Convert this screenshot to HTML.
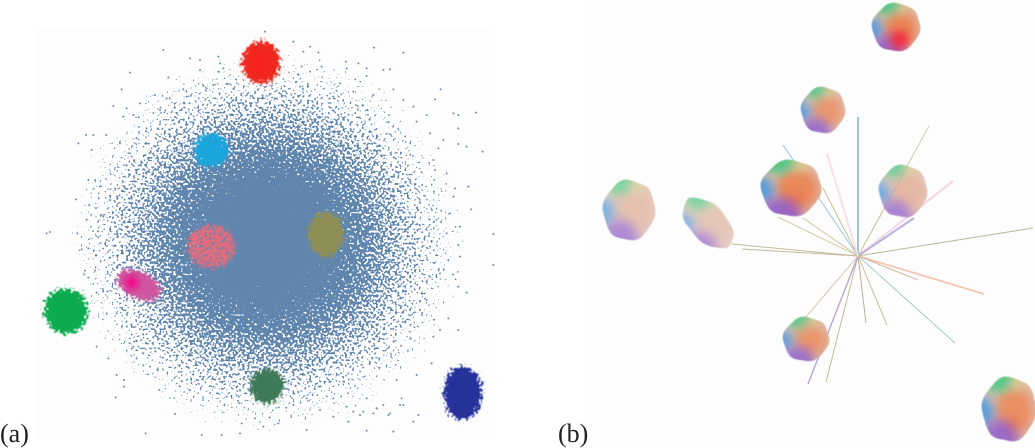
<!DOCTYPE html>
<html lang="en">
<head>
<meta charset="utf-8">
<title>Cluster projection (a) and radial axes view (b)</title>
<style>
html,body{margin:0;padding:0;background:#fff;width:1035px;height:448px;overflow:hidden}
svg{display:block}
text{font-family:"Liberation Serif",serif;font-size:26px;fill:#222}
</style>
</head>
<body>
<svg id="chart" width="1035" height="448" viewBox="0 0 1035 448" xmlns="http://www.w3.org/2000/svg">
  <defs>
    <radialGradient id="cloud-density">
      <stop offset="0" stop-color="#000" stop-opacity="1"/>
      <stop offset="0.36" stop-color="#000" stop-opacity="0.74"/>
      <stop offset="0.48" stop-color="#000" stop-opacity="0.62"/>
      <stop offset="0.6" stop-color="#000" stop-opacity="0.53"/>
      <stop offset="0.72" stop-color="#000" stop-opacity="0.46"/>
      <stop offset="0.84" stop-color="#000" stop-opacity="0.385"/>
      <stop offset="1" stop-color="#000" stop-opacity="0.28"/>
    </radialGradient>
    <filter id="speckle" x="0" y="0" width="1" height="1" color-interpolation-filters="sRGB">
      <feTurbulence type="fractalNoise" baseFrequency="0.42" numOctaves="1" seed="7" result="noise"/>
      <feColorMatrix in="noise" type="matrix" values="0 0 0 0 0  0 0 0 0 0  0 0 0 0 0  1 0 0 0 0" result="noiseAlpha"/>
      <feComposite in="SourceAlpha" in2="noiseAlpha" operator="arithmetic" k1="0" k2="1" k3="1" k4="-1" result="sum"/>
      <feComponentTransfer in="sum" result="mask"><feFuncA type="linear" slope="22" intercept="0"/></feComponentTransfer>
      <feFlood flood-color="#6086ae"/>
      <feComposite in2="mask" operator="in"/>
      <feGaussianBlur stdDeviation="0.3"/>
    </filter>
    <filter id="rough-edge" x="-30%" y="-30%" width="160%" height="160%" color-interpolation-filters="sRGB">
      <feTurbulence type="fractalNoise" baseFrequency="0.38" numOctaves="2" seed="3" result="noise"/>
      <feDisplacementMap in="SourceGraphic" in2="noise" scale="16" xChannelSelector="R" yChannelSelector="G"/>
      <feGaussianBlur stdDeviation="0.4"/>
    </filter>
    <filter id="mottled" x="-30%" y="-30%" width="160%" height="160%" color-interpolation-filters="sRGB">
      <feTurbulence type="fractalNoise" baseFrequency="0.42" numOctaves="1" seed="11" result="noise"/>
      <feDisplacementMap in="SourceGraphic" in2="noise" scale="18" xChannelSelector="R" yChannelSelector="G" result="rough"/>
      <feColorMatrix in="noise" type="matrix" values="0 0 0 0 0  0 0 0 0 0  0 0 0 0 0  6 0 0 0 -1.9" result="holes"/>
      <feComposite in="rough" in2="holes" operator="in"/>
      <feGaussianBlur stdDeviation="0.45"/>
    </filter>
    <filter id="soft-tint" x="-150%" y="-150%" width="400%" height="400%">
      <feGaussianBlur stdDeviation="5"/>
    </filter>
    <filter id="soft-spot" x="-60%" y="-60%" width="220%" height="220%">
      <feGaussianBlur stdDeviation="3"/>
    </filter>
    <filter id="hull-soften" x="-10%" y="-10%" width="120%" height="120%">
      <feGaussianBlur stdDeviation="0.55"/>
    </filter>
  </defs>

  <g id="panel-a">
    <rect x="37" y="28" width="458" height="412" fill="#fdfdfd"/>
    <ellipse id="density" fill="url(#cloud-density)" filter="url(#speckle)"/>
    <g id="strays"></g>
    <g id="clusters"></g>
    <text x="0" y="442">(a)</text>
  </g>

  <g id="panel-b">
    <rect x="590" y="0" width="445" height="448" fill="#fdfdfd"/>
    <g id="rays" opacity="0.8"></g>
    <g id="blobs"></g>
    <text x="558" y="442">(b)</text>
  </g>
</svg>

<script>
// Panel (a): values, in projection units (0–1560 by 0–1344).
const cloudCenter = [800, 725];
const cloudRadius = [590, 570];

const clusterNames = ['red', 'cyan', 'salmon', 'olive', 'magenta', 'green', 'dark-green', 'navy'];
const clusterX = [783, 633, 636, 978, 417, 198, 801, 1389];
const clusterY = [186, 450, 741, 702, 855, 933, 1158, 1179];
const clusterRx = [58, 50, 72, 54, 70, 66, 50, 58];
const clusterRy = [64, 52, 64, 68, 40, 68, 52, 80];
const clusterTilt = [0, 0, 0, 0, 25, 0, 0, 0];
const clusterColor = ['#ee2a1e', '#1aa5dc', '#e56c7c', '#8f8f55', '#cf569e', '#0cab50', '#3f7a58', '#26329a'];
const hotSpotX = [780, 395];
const hotSpotY = [190, 848];
const hotSpotColor = ['#f5201a', '#f0108c'];

const strayX = [795,880,490,570,600,655,660,910,930,955,1122,1210,1038,1075,600,655,670,1100,1150,1170,1040,390,505,965,930,905,1100,
365,550,1322,1180,1305,340,380,420,465,500,1360,1428,1375,1375,1375,1400,1448,258,280,318,235,275,1315,1305,265,228,268,1405,1365,1413,1360,
140,150,232,1480,1375,245,265,1480,1380,1345,1400,1375,255,285,265,290,320,350,1345,1375,1320,1295,1250,290,325,350,372,372,347,478,525,1255,1240,1045,920,1100,1180,437,605,665,720,725,765,790,835,
560,620,640,700,740,860,900,1000,1020,1060,1120,1210,1240,1280,1250,1290,1330,1300,1340,370,400,440,480,520,360,395,430,300,330,310,345,285,320,1310,1340,1290,1320,1350,1380,1280,1260,1300,
400,430,470,410,450,490,530,570,610,650,690,560,600,640,680,720,880,920,960,1000,1040,1080,1130,1170,1210,1060,1100,1150,1190,570,590,875,885,850,870,1000,1130,1090,1120,1165,1200,1205];
const strayY = [95,125,150,175,180,170,190,155,140,158,143,158,185,190,210,215,205,205,210,208,205,218,232,200,215,200,228,
268,268,268,268,298,318,325,310,285,295,340,338,345,385,432,440,455,405,405,405,430,450,445,510,540,598,615,560,565,628,590,
700,696,700,702,735,748,745,795,770,780,878,860,812,812,833,878,940,940,955,990,990,1090,1125,1040,1075,1125,1140,1160,1192,1170,1242,1245,1265,1265,1290,1292,1295,1300,1305,1305,1300,1270,1255,1280,1270,
290,265,255,300,285,280,260,290,250,275,285,300,320,345,365,400,420,480,520,350,345,385,330,360,430,470,520,560,600,650,680,540,720,660,700,740,820,640,680,900,930,1010,1040,1060,1000,1075,1100,1030,
1040,1060,1090,1110,1125,1100,1130,1160,1190,1170,1215,1195,1230,1250,1220,1245,1225,1240,1215,1235,1195,1215,1140,1170,1140,1090,1110,1080,1100,1195,1225,1235,1240,1245,1215,1195,1165,1185,1160,1135,1090,1105];

// Panel (b): cluster hulls and axis loadings.
const blobNames = ['top', 'upper', 'centre-left', 'centre-right', 'far-left', 'elongated', 'lower', 'bottom-right'];
const blobX = [896, 823, 791, 903, 629, 708, 806, 1009];
const blobY = [27, 110, 188, 191, 210, 223, 339, 409];
const blobRx = [24, 22, 30, 24, 26, 31, 23, 27];
const blobRy = [24, 23, 28, 26, 30, 18, 22, 32];
const blobTilt = [0, 0, 0, 0, 0, 46, 0, 0];
const blobHeat = [1, 0.8, 1, 0.35, 0.25, 0.15, 0.85, 0.9];
const blobRed = [1, 0, 0.12, 0, 0, 0, 0, 0.1];
const blobFade = [0.95, 0.9, 0.95, 0.78, 0.72, 0.7, 0.9, 0.92];

const rayNames = ['blue-up','tan-up-right','pink-up-right','lavender-up-right','olive-right','salmon-down-right','tan-down-right','teal-down-right','tan-down-a','tan-down-b','tan-down-c','purple-down','tan-lower-left','olive-left-a','olive-left-b','tan-left-a','tan-left-b','tan-left-c','blue-up-left','pink-up-left','tan-to-right-hull'];
const rayDX = [0, 71, 95, 56, 175, 126, 60, 97, 29, 8, -32, -50, -53, -126, -116, -80, -55, -35, -75, -31, 24];
const rayDY = [139, 130, 75, 38, 28, -38, -24, -87, -69, -67, -126, -128, -62, 12, 7, 39, 38, 68, 111, 102, 43];
const rayColor = ['#5f9fcb','#c7bd8e','#f3cfe0','#a99fd4','#a9ad80','#f3b9a4','#c9a98c','#8fc0b8','#c2b182','#aa9c78','#b9ab80','#a78fc9','#d6b8a8','#b5ad80','#b5a98a','#c9bf94','#c5b78c','#b9ad82','#8cbcd8','#f4d9e6','#c9c08f'];
const rayWidth = [1.5,1,2.2,2,1,1.8,1,1,1,1,1,1.4,1,1,1,1,1,1,1.1,2,1];

// Axis functions.
const xA = v => v / 3;
const yA = v => v / 3;
const xB = v => 858 + v;
const yB = v => 256 - v;

const NS = 'http://www.w3.org/2000/svg';
function make(tag, parent, attrs) {
  const el = document.createElementNS(NS, tag);
  for (const k in attrs) el.setAttribute(k, attrs[k]);
  parent.appendChild(el);
  return el;
}

// Background density.
const density = document.getElementById('density');
density.setAttribute('cx', xA(cloudCenter[0]));
density.setAttribute('cy', yA(cloudCenter[1]));
density.setAttribute('rx', xA(cloudRadius[0]));
density.setAttribute('ry', yA(cloudRadius[1]));

// Stray points.
const strayLayer = document.getElementById('strays');
strayX.forEach((sx, i) => {
  const dot = make('circle', strayLayer, { cx: xA(sx), cy: yA(strayY[i]), r: 1, fill: '#6c8cae' });
  
  
});

// Clusters.
const clusterLayer = document.getElementById('clusters');
clusterNames.forEach((name, i) => {
  const e = make('ellipse', clusterLayer, {
    cx: xA(clusterX[i]), cy: yA(clusterY[i]), rx: xA(clusterRx[i]), ry: yA(clusterRy[i]),
    fill: clusterColor[i], filter: name === 'salmon' ? 'url(#mottled)' : 'url(#rough-edge)',
    transform: 'rotate(' + clusterTilt[i] + ' ' + xA(clusterX[i]) + ' ' + yA(clusterY[i]) + ')'
  });
  
  
});
hotSpotX.forEach((hx, i) => {
  const spot = make('circle', clusterLayer, { cx: xA(hx), cy: yA(hotSpotY[i]), r: i === 0 ? 12 : 7, fill: hotSpotColor[i], filter: 'url(#soft-spot)' });
  
  
});

// Rays.
const rayLayer = document.getElementById('rays');
rayNames.forEach((name, i) => {
  const ray = make('line', rayLayer, { x1: xB(0), y1: yB(0), x2: xB(rayDX[i]), y2: yB(rayDY[i]), stroke: rayColor[i], 'stroke-width': rayWidth[i] });
  
  
});

// Hulls.
const hullOutline = [1.02,1.03,1.0,0.98,0.97,0.99,1.02,1.04,1.03,1.0,0.98,1.0,1.04,1.05,1.02,0.99,0.97,0.98,1.01,1.03,1.01,0.98,0.96,0.96,0.99,1.02,1.03,1.01,0.98,0.97,0.99,1.03,1.04,1.02,0.99,1.0];
const blobLayer = document.getElementById('blobs');
const defs = document.querySelector('defs');
blobNames.forEach((name, i) => {
  const cx = blobX[i], cy = blobY[i], rx = blobRx[i], ry = blobRy[i];
  const t = blobTilt[i] * Math.PI / 180;
  const pts = hullOutline.map((m, k) => {
    const a = k / hullOutline.length * 2 * Math.PI;
    const px = rx * m * Math.cos(a), py = ry * m * Math.sin(a);
    return (cx + px * Math.cos(t) - py * Math.sin(t)).toFixed(1) + ',' + (cy + px * Math.sin(t) + py * Math.cos(t)).toFixed(1);
  }).join(' ');
  const ex = Math.sqrt(rx * rx * Math.cos(t) ** 2 + ry * ry * Math.sin(t) ** 2);
  const ey = Math.sqrt(rx * rx * Math.sin(t) ** 2 + ry * ry * Math.cos(t) ** 2);
  const clip = make('clipPath', defs, { id: 'hull-clip-' + i });
  make('polygon', clip, { points: pts });

  const outer = make('g', blobLayer, { filter: 'url(#hull-soften)', opacity: blobFade[i] });
  
  
  const g = make('g', outer, { 'clip-path': 'url(#hull-clip-' + i + ')' });
  make('polygon', g, { points: pts, fill: '#dcb8aa' });
  const tint = (ux, uy, ur, color, op) => make('ellipse', g, {
    cx: cx + ux * ex, cy: cy + uy * ey, rx: ur * ex, ry: ur * ey,
    fill: color, opacity: op, filter: 'url(#soft-tint)'
  });
  tint(0.2, 0.05, 0.72, '#ea8350', blobHeat[i]);
  tint(0.25, -0.9, 0.32, '#d9ca80', 0.8);
  tint(-1.05, 0.1, 0.5, '#4f97d8', 1);
  tint(-0.42, -1.02, 0.52, '#4cc47f', 1);
  tint(-0.35, 1.05, 0.72, '#8a58c8', 0.9);
  tint(0.15, 0.55, 0.4, '#f41f30', blobRed[i]);
});
</script>
</body>
</html>
